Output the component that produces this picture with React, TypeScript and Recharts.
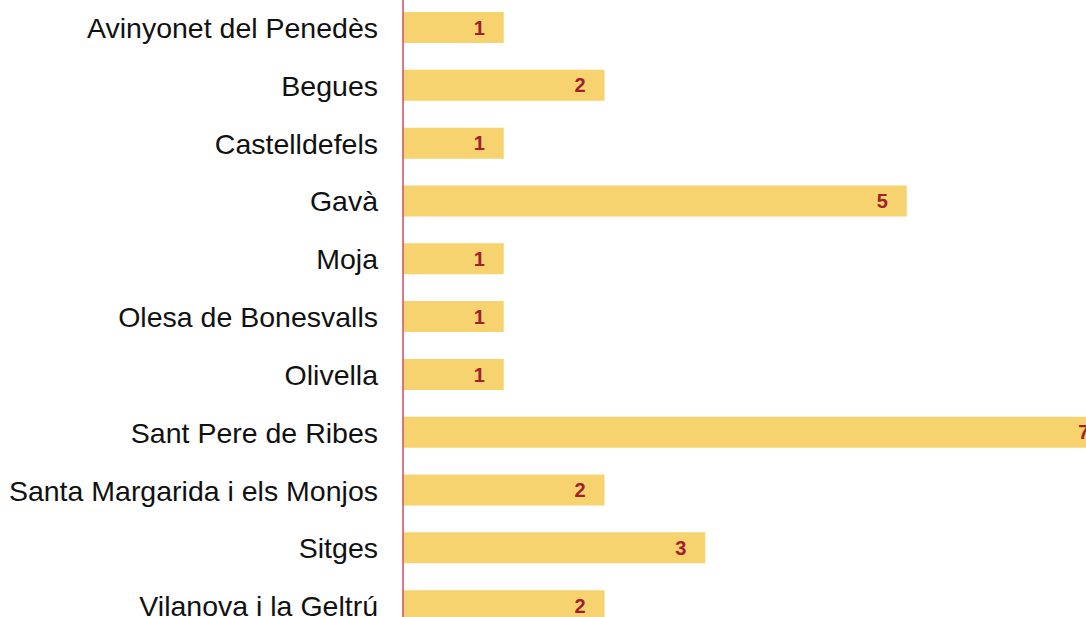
import React from "react";
import { BarChart, Bar, XAxis, YAxis, LabelList } from "recharts";

const categories = [
  "Avinyonet del Penedès",
  "Begues",
  "Castelldefels",
  "Gavà",
  "Moja",
  "Olesa de Bonesvalls",
  "Olivella",
  "Sant Pere de Ribes",
  "Santa Margarida i els Monjos",
  "Sitges",
  "Vilanova i la Geltrú",
];
const values = [1, 2, 1, 5, 1, 1, 1, 7, 2, 3, 2];

const data = categories.map((name, i) => ({ name, value: values[i] }));

export default function App() {
  return (
    <div
      style={{
        position: "fixed",
        left: 0,
        top: 0,
        width: 1086,
        height: 617,
        overflow: "hidden",
        background: "#fff",
      }}
    >
      <div style={{ position: "absolute", left: 0, top: -1 }}>
        <BarChart
          width={1300}
          height={636}
          data={data}
          layout="vertical"
          margin={{ top: 0, right: 91, bottom: 0, left: 0 }}
          barSize={31}
        >
          <XAxis type="number" domain={[0, 8]} hide />
          <YAxis
            type="category"
            dataKey="name"
            width={403}
            tickLine={false}
            tickSize={0}
            tickMargin={25}
            axisLine={{ stroke: "#C8515E", strokeWidth: 1.5 }}
            tick={{
              fill: "#111",
              fontSize: 28.5,
              fontFamily: "Liberation Sans, Arial, sans-serif",
            }}
            interval={0}
          />
          <Bar dataKey="value" fill="#F6D36E" isAnimationActive={false}>
            <LabelList
              dataKey="value"
              position="insideRight"
              offset={19}
              fill="#A2202E"
              fontSize={20}
              fontWeight="bold"
              fontFamily="Liberation Sans, Arial, sans-serif"
            />
          </Bar>
        </BarChart>
      </div>
    </div>
  );
}
